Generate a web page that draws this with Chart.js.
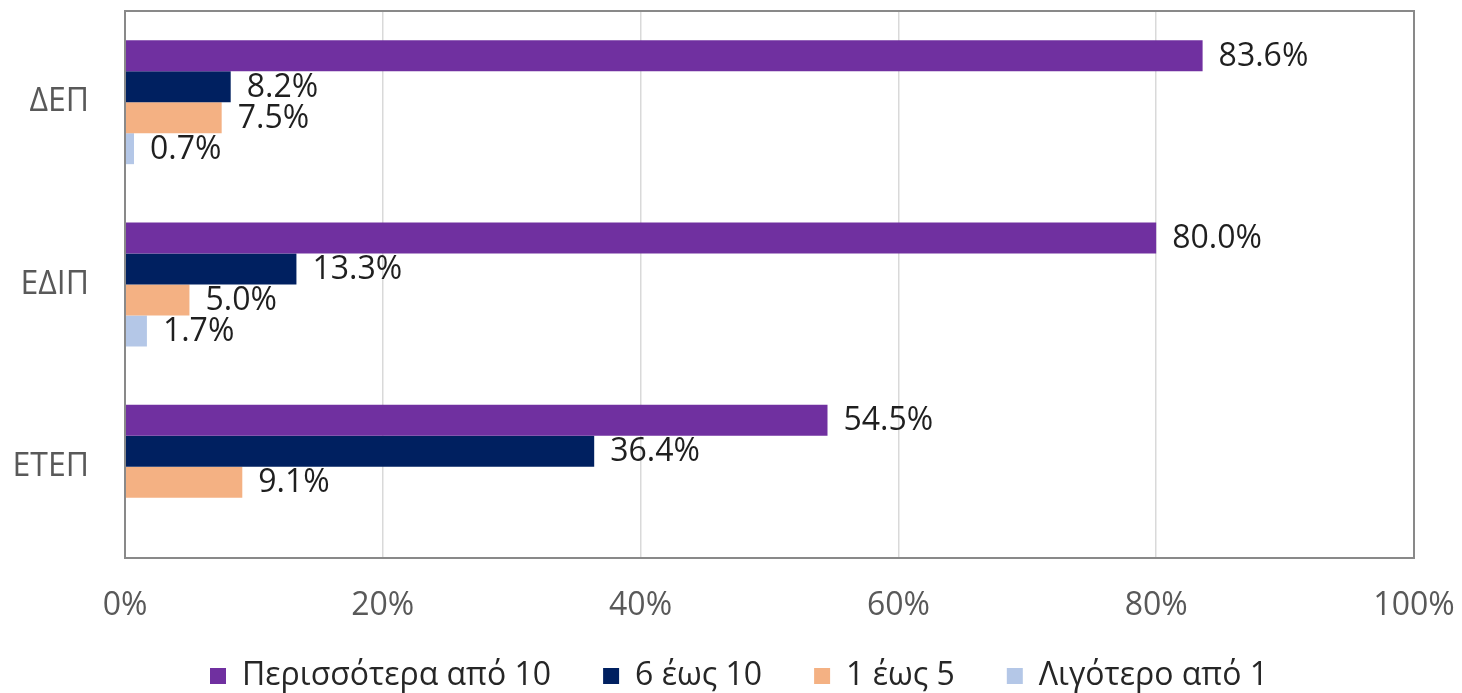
<!DOCTYPE html>
<html>
<head>
<meta charset="utf-8">
<script src="https://cdn.jsdelivr.net/npm/chart.js@4/dist/chart.umd.min.js"></script>
<style>
html,body{margin:0;padding:0;background:#fff;}
#wrap{width:1462px;height:693px;position:relative;}
</style>
</head>
<body>
<div id="wrap"><canvas id="c" width="1462" height="693"></canvas></div>
<script>
const categories = ['ΔΕΠ', 'ΕΔΙΠ', 'ΕΤΕΠ'];
const seriesNames = ['Περισσότερα από 10', '6 έως 10', '1 έως 5', 'Λιγότερο από 1'];
const moreThan10 = [83.6, 80.0, 54.5];
const from6to10 = [8.2, 13.3, 36.4];
const from1to5 = [7.5, 5.0, 9.1];
const lessThan1 = [0.7, 1.7, null];
const xTicks = [0, 20, 40, 60, 80, 100];
const colors = ['#7030A0', '#002060', '#F4B183', '#B4C7E7'];

const FONT = "'Open Sans', 'Noto Sans', sans-serif";

const borderPlugin = {
  id: 'areaBorder',
  afterDraw(chart) {
    const {ctx, chartArea: a} = chart;
    ctx.save();
    ctx.strokeStyle = '#898989';
    ctx.lineWidth = 2;
    ctx.strokeRect(a.left, a.top, a.right - a.left, a.bottom - a.top);
    ctx.restore();
  }
};

const legendPlace = {
  id: 'legendPlace',
  afterLayout(chart) {
    const l = chart.legend;
    if (!l) return;
    const h = l.height;
    l.top = 608;
    l.bottom = 608 + h;
    l.left += 32;
    l.right += 32;
  }
};

const labelPlugin = {
  id: 'valueLabels',
  afterDatasetsDraw(chart) {
    const {ctx} = chart;
    ctx.save();
    ctx.font = "32px " + FONT;
    ctx.fillStyle = '#1f1f1f';
    ctx.textAlign = 'left';
    ctx.textBaseline = 'middle';
    chart.data.datasets.forEach((ds, di) => {
      const meta = chart.getDatasetMeta(di);
      meta.data.forEach((el, i) => {
        const v = ds.data[i];
        if (v === null || v === undefined) return;
        ctx.fillText(v.toFixed(1) + '%', el.x + 16, el.y + 1);
      });
    });
    ctx.restore();
  }
};

const dataArrays = [moreThan10, from6to10, from1to5, lessThan1];

new Chart(document.getElementById('c'), {
  type: 'bar',
  data: {
    labels: categories,
    datasets: seriesNames.map((n, i) => ({
      label: n,
      data: dataArrays[i],
      backgroundColor: colors[i],
      borderWidth: 0,
      barPercentage: 1.0,
      categoryPercentage: 0.68
    }))
  },
  options: {
    indexAxis: 'y',
    responsive: false,
    animation: false,
    layout: { padding: { top: 11, right: 48, left: 0, bottom: -31 } },
    scales: {
      x: {
        min: 0, max: 100,
        afterBuildTicks(scale) { scale.ticks = xTicks.map(v => ({ value: v })); },
        afterFit(scale) {
          scale.height = 72;
          scale.paddingLeft = 0; scale.paddingRight = 0;
          scale.paddingTop = 0; scale.paddingBottom = 0;
        },
        ticks: {
          callback: v => v + '%',
          color: '#595959',
          font: { family: FONT, size: 32 },
          padding: 29,
          maxRotation: 0
        },
        grid: { color: '#d9d9d9', lineWidth: 1.5, drawTicks: false },
        border: { display: false }
      },
      y: {
        afterFit(scale) {
          scale.width = 125;
          scale.paddingTop = 0; scale.paddingBottom = 0;
          scale.paddingLeft = 0; scale.paddingRight = 0;
        },
        ticks: {
          color: '#595959',
          font: { family: FONT, size: 32 },
          padding: 36
        },
        grid: { display: false, drawTicks: false },
        border: { display: false }
      }
    },
    plugins: {
      legend: {
        position: 'bottom',
        labels: {
          boxWidth: 16,
          boxHeight: 16,
          padding: 52,
          color: '#262626',
          font: { family: FONT, size: 32 }
        }
      },
      tooltip: { enabled: false }
    }
  },
  plugins: [borderPlugin, labelPlugin, legendPlace]
});
</script>
</body>
</html>
